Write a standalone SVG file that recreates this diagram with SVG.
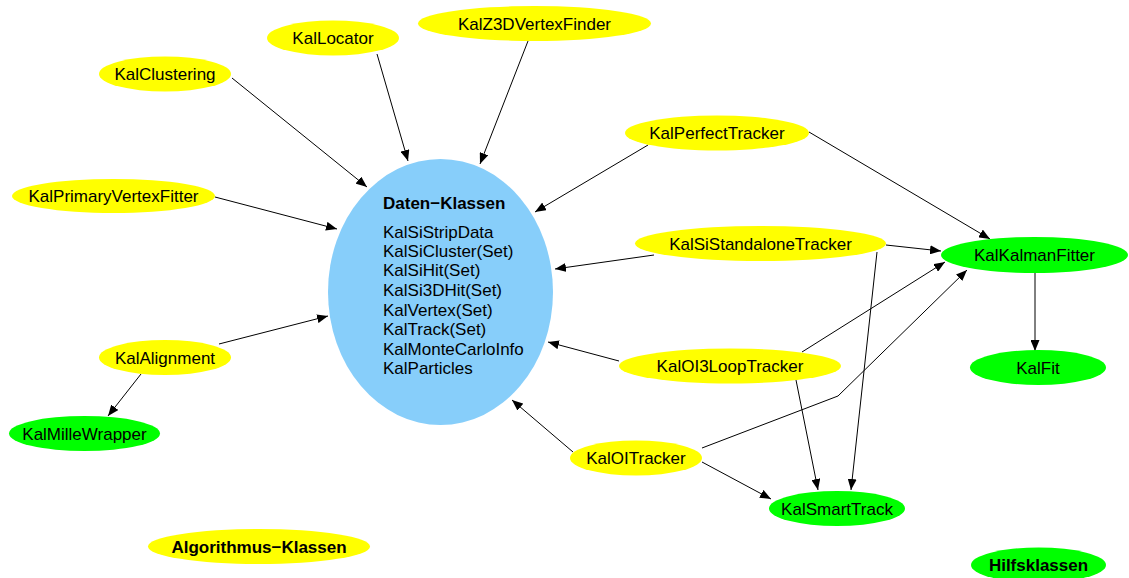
<svg xmlns="http://www.w3.org/2000/svg" width="1129" height="578" viewBox="0 0 1129 578">
  <style>
    .alg { fill: #ffff00; }
    .hlp { fill: #00ff00; }
    .dat { fill: #87cefa; }
    text { font-family: "Liberation Sans", Arial, sans-serif; font-size: 17px; fill: #000; }
    .c { text-anchor: middle; }
    .b { font-weight: bold; }
    .edge { fill: none; stroke: #000; stroke-width: 1; marker-end: url(#arrow); }
  </style>
  <defs>
    <marker id="arrow" markerUnits="userSpaceOnUse" markerWidth="12" markerHeight="9" refX="11" refY="4.5" orient="auto">
      <path d="M0,0 L11,4.5 L0,9 z" fill="#000"/>
    </marker>
  </defs>
  <rect width="1129" height="578" fill="#ffffff"/>

  <!-- connectors -->
  <g id="edges">
    <line class="edge" x1="232" y1="78" x2="367" y2="187"/>
    <line class="edge" x1="377" y1="54" x2="408" y2="161"/>
    <line class="edge" x1="528" y1="41" x2="480" y2="164"/>
    <line class="edge" x1="215" y1="197" x2="337" y2="229"/>
    <line class="edge" x1="648" y1="145" x2="535" y2="212"/>
    <line class="edge" x1="809" y1="132" x2="990" y2="239"/>
    <line class="edge" x1="654" y1="255" x2="555" y2="269"/>
    <line class="edge" x1="886" y1="245" x2="941" y2="251"/>
    <line class="edge" x1="877" y1="252" x2="851" y2="490"/>
    <line class="edge" x1="619" y1="361" x2="548" y2="342"/>
    <line class="edge" x1="802" y1="352" x2="945" y2="262"/>
    <line class="edge" x1="796" y1="380" x2="818" y2="490"/>
    <line class="edge" x1="573" y1="452" x2="512" y2="400"/>
    <polyline class="edge" points="702,448 838,396 967,270"/>
    <line class="edge" x1="702" y1="462" x2="771" y2="499"/>
    <line class="edge" x1="1035" y1="273" x2="1035" y2="351"/>
    <line class="edge" x1="219" y1="344" x2="328" y2="316"/>
    <line class="edge" x1="141" y1="374" x2="108" y2="416"/>
  </g>

  <!-- data classes -->
  <g id="daten">
    <ellipse class="dat" cx="440.5" cy="292" rx="112.5" ry="133"/>
    <text class="b" x="383" y="209">Daten−Klassen</text>
    <text x="383" y="238">KalSiStripData</text>
    <text x="383" y="257">KalSiCluster(Set)</text>
    <text x="383" y="276">KalSiHit(Set)</text>
    <text x="383" y="296">KalSi3DHit(Set)</text>
    <text x="383" y="316">KalVertex(Set)</text>
    <text x="383" y="335">KalTrack(Set)</text>
    <text x="383" y="355">KalMonteCarloInfo</text>
    <text x="383" y="374">KalParticles</text>
  </g>

  <!-- algorithm classes -->
  <g id="KalClustering">
    <ellipse class="alg" cx="165" cy="74" rx="66" ry="17.5"/>
    <text class="c" x="165" y="80">KalClustering</text>
  </g>
  <g id="KalLocator">
    <ellipse class="alg" cx="333" cy="38" rx="66" ry="17.5"/>
    <text class="c" x="333" y="44">KalLocator</text>
  </g>
  <g id="KalZ3DVertexFinder">
    <ellipse class="alg" cx="534.5" cy="23.5" rx="116.5" ry="17.5"/>
    <text class="c" x="534.5" y="29.5">KalZ3DVertexFinder</text>
  </g>
  <g id="KalPrimaryVertexFitter">
    <ellipse class="alg" cx="113.5" cy="196" rx="101.5" ry="17"/>
    <text class="c" x="113.5" y="202">KalPrimaryVertexFitter</text>
  </g>
  <g id="KalPerfectTracker">
    <ellipse class="alg" cx="717" cy="133" rx="92" ry="17.5"/>
    <text class="c" x="717" y="139">KalPerfectTracker</text>
  </g>
  <g id="KalSiStandaloneTracker">
    <ellipse class="alg" cx="760.5" cy="243.5" rx="125.5" ry="17.5"/>
    <text class="c" x="760.5" y="249.5">KalSiStandaloneTracker</text>
  </g>
  <g id="KalOI3LoopTracker">
    <ellipse class="alg" cx="730" cy="366" rx="111" ry="17.5"/>
    <text class="c" x="730" y="372">KalOI3LoopTracker</text>
  </g>
  <g id="KalOITracker">
    <ellipse class="alg" cx="636" cy="458" rx="66" ry="17.5"/>
    <text class="c" x="636" y="464">KalOITracker</text>
  </g>
  <g id="KalAlignment">
    <ellipse class="alg" cx="165" cy="357.5" rx="66" ry="17.5"/>
    <text class="c" x="165" y="363.5">KalAlignment</text>
  </g>
  <g id="AlgorithmusKlassen">
    <ellipse class="alg" cx="259" cy="546.5" rx="111" ry="17.5"/>
    <text class="c b" x="259" y="552.5">Algorithmus−Klassen</text>
  </g>

  <!-- helper classes -->
  <g id="KalKalmanFitter">
    <ellipse class="hlp" cx="1034.5" cy="255" rx="93.5" ry="18"/>
    <text class="c" x="1034.5" y="261">KalKalmanFitter</text>
  </g>
  <g id="KalFit">
    <ellipse class="hlp" cx="1038" cy="367.5" rx="68" ry="17.5"/>
    <text class="c" x="1038" y="373.5">KalFit</text>
  </g>
  <g id="KalSmartTrack">
    <ellipse class="hlp" cx="837" cy="508.5" rx="68" ry="17.5"/>
    <text class="c" x="837" y="514.5">KalSmartTrack</text>
  </g>
  <g id="KalMilleWrapper">
    <ellipse class="hlp" cx="84.5" cy="433.5" rx="75.5" ry="17.5"/>
    <text class="c" x="84.5" y="439.5">KalMilleWrapper</text>
  </g>
  <g id="Hilfsklassen">
    <ellipse class="hlp" cx="1038.5" cy="565" rx="67.5" ry="17.5"/>
    <text class="c b" x="1038.5" y="571">Hilfsklassen</text>
  </g>
</svg>
